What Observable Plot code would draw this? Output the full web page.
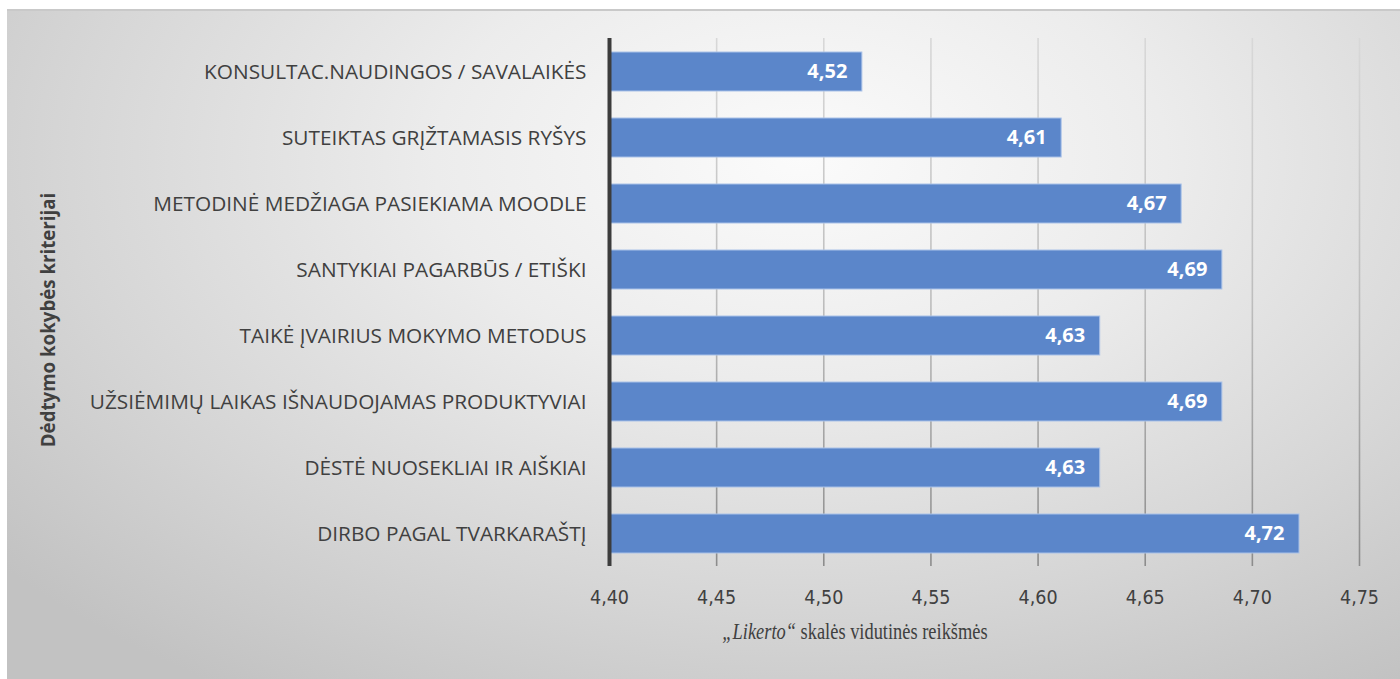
<!DOCTYPE html>
<html><head><meta charset="utf-8">
<script src="https://cdn.jsdelivr.net/npm/d3@7"></script>
<script src="https://cdn.jsdelivr.net/npm/@observablehq/plot@0.6"></script>
<style>
html,body{margin:0;padding:0;background:#fff;}
#wrap{position:absolute;left:7px;top:9px;width:1393px;height:670px;
  background:radial-gradient(ellipse 75% 95% at 57% 22%, #fbfbfb 0%, #ececec 35%, #d6d6d6 70%, #c2c2c2 100%);
  border-top:2px solid #c9c9c9;box-sizing:border-box;overflow:hidden;}
#chart{position:absolute;left:0;top:-2px;}
#ytitle{position:absolute;left:40px;top:309px;transform:translate(-50%,-50%) rotate(-90deg);
  font-family:"Open Sans",sans-serif;font-weight:bold;font-size:18.7px;color:#404040;white-space:nowrap;}
#xtitle{position:absolute;left:848px;top:621px;transform:translate(-50%,-50%) scale(0.8,1);
  font-family:"Liberation Serif","Times New Roman",serif;font-size:23px;color:#404040;white-space:nowrap;}
</style>
</head><body>
<div id="wrap">
  <div id="chart"></div>
  <div id="ytitle">Dėdtymo kokybės kriterijai</div>
  <div id="xtitle"><i>„Likerto“</i> skalės vidutinės reikšmės</div>
</div>
<script>
const categories = [
  "KONSULTAC.NAUDINGOS / SAVALAIKĖS",
  "SUTEIKTAS GRĮŽTAMASIS RYŠYS",
  "METODINĖ MEDŽIAGA PASIEKIAMA MOODLE",
  "SANTYKIAI PAGARBŪS / ETIŠKI",
  "TAIKĖ ĮVAIRIUS MOKYMO METODUS",
  "UŽSIĖMIMŲ LAIKAS IŠNAUDOJAMAS PRODUKTYVIAI",
  "DĖSTĖ NUOSEKLIAI IR AIŠKIAI",
  "DIRBO PAGAL TVARKARAŠTĮ"
];
const values = [4.518, 4.611, 4.667, 4.686, 4.629, 4.686, 4.629, 4.722];
const valueLabels = ["4,52", "4,61", "4,67", "4,69", "4,63", "4,69", "4,63", "4,72"];
const xTicks = [4.40, 4.45, 4.50, 4.55, 4.60, 4.65, 4.70, 4.75];
const xTickLabels = ["4,40", "4,45", "4,50", "4,55", "4,60", "4,65", "4,70", "4,75"];

const xMin = xTicks[0], xMax = xTicks[xTicks.length - 1];
const data = categories.map((c, i) => ({category: c, value: values[i], label: valueLabels[i], base: xMin}));
const tickLabel = d => xTickLabels[xTicks.findIndex(t => Math.abs(t - d) < 1e-9)];

const plot = Plot.plot({
  width: 1393, height: 670,
  marginLeft: 602, marginRight: 41, marginTop: 29, marginBottom: 113,
  style: {background: "transparent", fontFamily: "'Open Sans', sans-serif", color: "#404040", overflow: "visible"},
  x: {domain: [xMin, xMax]},
  y: {domain: categories, paddingInner: 0.41, paddingOuter: 0.205},
  marks: [
    Plot.gridX(xTicks.slice(1), {stroke: "url(#gridGrad)", strokeOpacity: 1, strokeWidth: 1.6}),
    Plot.axisX(xTicks, {tickSize: 0, tickPadding: 24, fontSize: 19.5, tickFormat: tickLabel, label: null,
      fontFamily: "'Liberation Sans Narrow','DejaVu Sans Condensed',sans-serif", fill: "#404040"}),
    Plot.axisY({tickSize: 0, tickPadding: 23, fontSize: 20.8, label: null, fill: "#404040"}),
    Plot.barX(data, {x1: "base", x2: "value", y: "category", fill: "#5b86ca", stroke: "#a9c1e8", strokeWidth: 1}),
    Plot.text(data, {x: "value", y: "category", text: "label", textAnchor: "end", dx: -15,
      fill: "white", fontWeight: "bold", fontSize: 20}),
    Plot.ruleX([xMin], {stroke: "#3c3c3c", strokeWidth: 4})
  ]
});

const svg = d3.select(plot);
const defs = svg.insert("defs", ":first-child");
const g = defs.append("linearGradient").attr("id", "gridGrad")
  .attr("gradientUnits", "userSpaceOnUse").attr("x1", 0).attr("x2", 0).attr("y1", 29).attr("y2", 557);
g.append("stop").attr("offset", "0%").attr("stop-color", "#d8d8d8");
g.append("stop").attr("offset", "50%").attr("stop-color", "#bdbdbd");
g.append("stop").attr("offset", "100%").attr("stop-color", "#8c8c8c");

document.getElementById("chart").appendChild(plot);
</script>
</body></html>
